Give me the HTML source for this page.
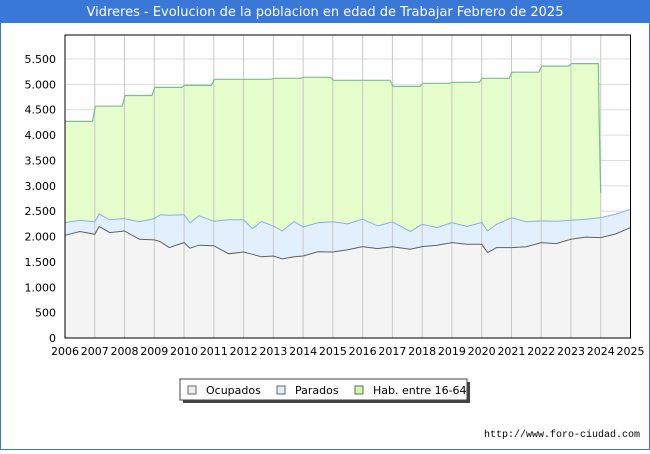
<!DOCTYPE html>
<html><head><meta charset="utf-8"><style>
body{margin:0;width:650px;height:450px;overflow:hidden;background:#fff;font-family:"DejaVu Sans","Liberation Sans",sans-serif}
</style></head><body>
<svg width="650" height="450" xmlns="http://www.w3.org/2000/svg">
<rect x="0.5" y="0.5" width="649" height="449" fill="#fff" stroke="#3a78d8" stroke-width="1"/>
<rect x="0" y="0" width="650" height="23" fill="#3a78d8"/>
<text x="325" y="16" text-anchor="middle" fill="#fff" font-size="13">Vidreres - Evolucion de la poblacion en edad de Trabajar Febrero de 2025</text>
<g id="grid"></g>
<g id="series"></g>
<g id="axes"></g>
<rect x="65" y="35" width="565.5" height="303" fill="none" stroke="#000" stroke-width="1"/>
<g>
<rect x="183" y="382" width="287" height="21" fill="#444"/>
<rect x="180" y="379" width="287" height="21" fill="#fff" stroke="#444"/>
<g><rect x="188" y="386" width="8" height="8" fill="#eeeeee" stroke="#666"/><text x="206" y="394" font-size="11">Ocupados</text></g>
<g><rect x="277" y="386" width="8" height="8" fill="#ddeeff" stroke="#666"/><text x="295" y="394" font-size="11">Parados</text></g>
<g><rect x="355" y="386" width="8" height="8" fill="#ccff99" stroke="#666"/><text x="373" y="394" font-size="11">Hab. entre 16-64</text></g>
</g>
<text x="640" y="437" text-anchor="end" font-size="10" font-family="Liberation Mono, monospace">http://www.foro-ciudad.com</text>
</svg>
<script>
const yearTicks=[2006,2007,2008,2009,2010,2011,2012,2013,2014,2015,2016,2017,2018,2019,2020,2021,2022,2023,2024,2025];
const yTicks=[0,500,1000,1500,2000,2500,3000,3500,4000,4500,5000,5500];
const tPts=[2006,2006.5,2007,2007.15,2007.5,2008,2008.5,2009,2009.2,2009.5,2010,2010.2,2010.5,2011,2011.5,2012,2012.3,2012.6,2013,2013.3,2013.7,2014,2014.5,2015,2015.5,2016,2016.5,2017,2017.6,2018,2018.5,2019,2019.5,2020,2020.2,2020.5,2021,2021.5,2022,2022.5,2023,2023.5,2024,2024.5,2025];
const ocupados=[2025,2100,2045,2200,2078,2110,1946,1933,1900,1782,1880,1770,1830,1820,1660,1696,1650,1600,1617,1560,1600,1617,1700,1696,1740,1801,1762,1800,1749,1801,1828,1880,1847,1847,1683,1782,1782,1800,1880,1860,1946,1990,1979,2050,2176];
const activos=[2275,2320,2288,2440,2330,2354,2290,2354,2430,2420,2430,2270,2410,2300,2330,2330,2157,2295,2209,2111,2295,2190,2270,2290,2250,2341,2209,2288,2100,2242,2176,2275,2200,2275,2110,2242,2370,2290,2308,2300,2320,2340,2373,2440,2538];
const habYears=[2006,2007,2008,2009,2010,2011,2012,2013,2014,2015,2016,2017,2018,2019,2020,2021,2022,2023];
const habVals=[4270,4570,4780,4940,4980,5100,5100,5120,5140,5080,5080,4960,5020,5040,5120,5240,5360,5410];
const habEndT=[2023.93,2023.96,2024.0];
const habEndV=[4890,3950,2860];
const NS="http://www.w3.org/2000/svg";
const X=t=>65+(t-2006)*(565.5/19);
const Y=v=>338-v*(279/5500);
function mk(tag,attrs,parent){const e=document.createElementNS(NS,tag);for(const k in attrs)e.setAttribute(k,attrs[k]);parent.appendChild(e);return e;}
const grid=document.getElementById('grid'),ser=document.getElementById('series'),ax=document.getElementById('axes');
yTicks.forEach(v=>{const l=mk('line',{x1:65,x2:630.5,y1:Y(v),y2:Y(v),stroke:'#dddddd'},grid);


const t=mk('text',{x:56,y:Y(v)+4,'text-anchor':'end','font-size':'11'},ax);t.textContent=v===0?'0':v.toLocaleString('de-DE');

});
// hab line points
const hp=[];
habYears.forEach((y,i)=>{hp.push([y+(i===0?0:0.02),habVals[i]]);const end=i<habYears.length-1?y+0.92:habEndT[0]-0.01;hp.push([end,habVals[i]]);});
habEndT.forEach((t,i)=>hp.push([t,habEndV[i]]));
const habStr=hp.map(p=>X(p[0]).toFixed(1)+','+Y(p[1]).toFixed(1)).join(' ');
const last=hp[hp.length-1];
const hf=mk('polygon',{points:habStr+' '+X(last[0]).toFixed(1)+','+Y(0)+' '+X(2006)+','+Y(0),fill:'#e6fdcc'},ser);


const actStr=tPts.map((t,i)=>X(t).toFixed(1)+','+Y(activos[i]).toFixed(1)).join(' ');
const ocStr=tPts.map((t,i)=>X(t).toFixed(1)+','+Y(ocupados[i]).toFixed(1)).join(' ');
const af=mk('polygon',{points:actStr+' '+X(2025)+','+Y(0)+' '+X(2006)+','+Y(0),fill:'#e2f0fe'},ser);


const of=mk('polygon',{points:ocStr+' '+X(2025)+','+Y(0)+' '+X(2006)+','+Y(0),fill:'#f4f4f4'},ser);


yearTicks.forEach(y=>{if(y>2006&&y<2025){const l=mk('line',{x1:X(y),x2:X(y),y1:35,y2:338,stroke:'#c8c8c8'},ser);

}
const t=mk('text',{x:X(y),y:355,'text-anchor':'middle','font-size':'11'},ax);t.textContent=y;

});
const hl=mk('polyline',{points:habStr,fill:'none',stroke:'#78c08a','stroke-width':1.2},ser);


const al=mk('polyline',{points:actStr,fill:'none',stroke:'#8aaeea','stroke-width':1},ser);


const ol=mk('polyline',{points:ocStr,fill:'none',stroke:'#606060','stroke-width':1},ser);


</script>
</body></html>
